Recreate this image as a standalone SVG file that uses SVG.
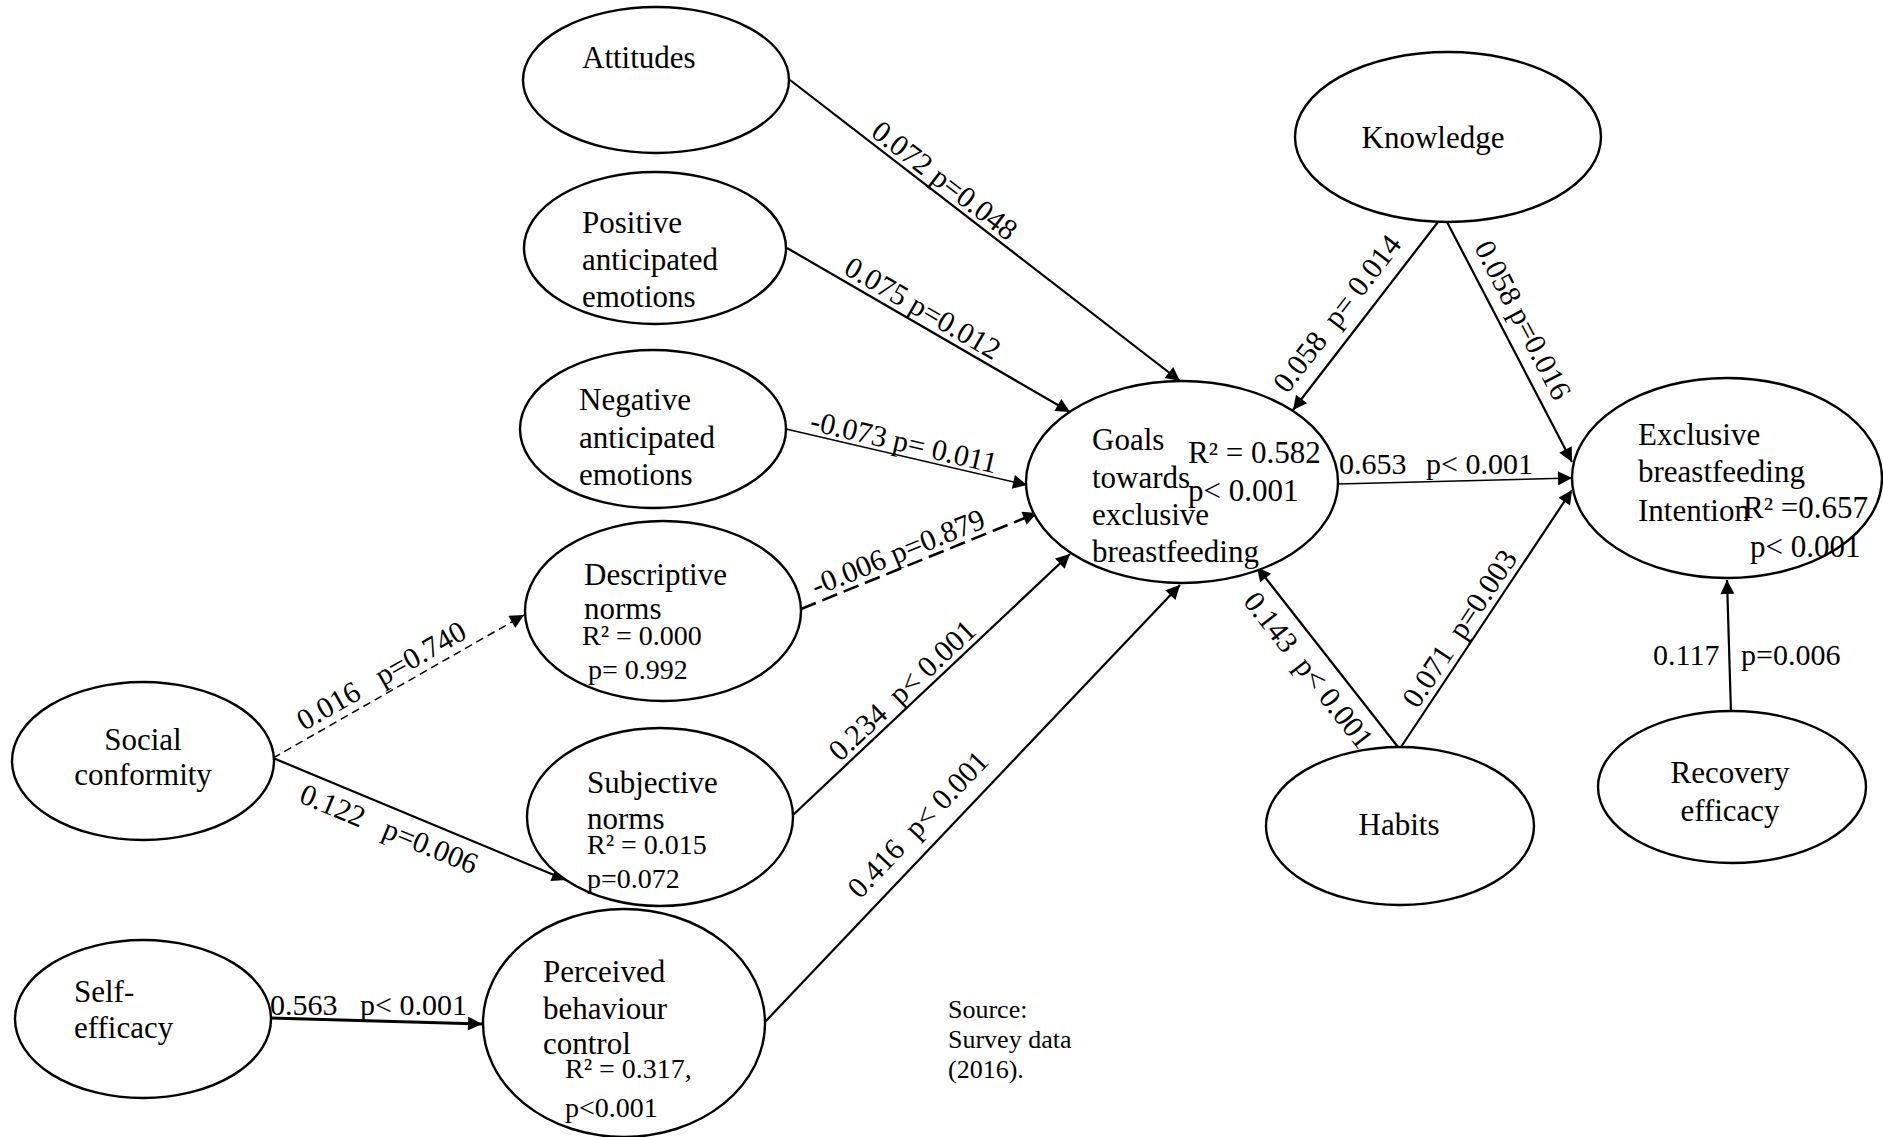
<svg xmlns="http://www.w3.org/2000/svg" width="1883" height="1137" viewBox="0 0 1883 1137">
<style>
.node ellipse{fill:#fff;stroke:#000;stroke-width:2.4}
text{font-family:"Liberation Serif","Times New Roman",serif;fill:#000}
.nl{font-size:31px}
.r2{font-size:28px}
.el{font-size:30px;white-space:pre}
.src{font-size:26px}
.edge{fill:none;stroke:#000;stroke-width:2.2}
.thin{stroke-width:1.4}
.thick{stroke-width:3}
.dash1{stroke-dasharray:8 5;stroke-width:1.5}
.dash2{stroke-dasharray:16 7;stroke-width:2.6}
</style>
<defs>
<marker id="arr" viewBox="0 0 10 10" refX="10" refY="5" markerWidth="18" markerHeight="14" markerUnits="userSpaceOnUse" orient="auto">
<path d="M0,0 L10,5 L0,10 z" fill="#000" stroke="none"/>
</marker>
</defs>
<rect width="1883" height="1137" fill="#fff"/>

<g id="connectors">
<line class="edge" x1="790" y1="80" x2="1180" y2="381" marker-end="url(#arr)"/>
<line class="edge" x1="787" y1="248" x2="1070" y2="412" marker-end="url(#arr)"/>
<line class="edge thin" x1="786" y1="429" x2="1027" y2="485" marker-end="url(#arr)"/>
<line class="edge dash2" x1="801" y1="609" x2="1037" y2="513" marker-end="url(#arr)"/>
<line class="edge" x1="793" y1="815" x2="1070" y2="554" marker-end="url(#arr)"/>
<line class="edge" x1="764" y1="1023" x2="1180" y2="585" marker-end="url(#arr)"/>
<line class="edge" x1="1438" y1="222" x2="1293" y2="410" marker-end="url(#arr)"/>
<line class="edge" x1="1447" y1="222" x2="1572" y2="462" marker-end="url(#arr)"/>
<line class="edge thin" x1="1338" y1="484" x2="1572" y2="478" marker-end="url(#arr)"/>
<line class="edge" x1="1398" y1="747" x2="1257" y2="567" marker-end="url(#arr)"/>
<line class="edge" x1="1401" y1="747" x2="1572" y2="490" marker-end="url(#arr)"/>
<line class="edge" x1="1731" y1="713" x2="1727" y2="580" marker-end="url(#arr)"/>
<line class="edge dash1" x1="273" y1="758" x2="524" y2="615" marker-end="url(#arr)"/>
<line class="edge" x1="273" y1="758" x2="566" y2="880" marker-end="url(#arr)"/>
<line class="edge thick" x1="270" y1="1018" x2="482" y2="1024" marker-end="url(#arr)"/>

<text class="el" text-anchor="middle" transform="translate(935.5,192.3) rotate(37.66)" y="-5">0.072 p=0.048</text>
<text class="el" text-anchor="middle" transform="translate(914.8,322) rotate(30.1)" y="-6">0.075 p=0.012</text>
<text class="el" text-anchor="middle" transform="translate(900.8,455.6) rotate(13.1)" y="-4">-0.073 p= 0.011</text>
<text class="el" text-anchor="middle" transform="translate(904,567) rotate(-22.1)" y="-6">-0.006 p=0.879</text>
<text class="el" text-anchor="middle" transform="translate(913,702) rotate(-43.3)" y="-6">0.234  p&lt; 0.001</text>
<text class="el" text-anchor="middle" transform="translate(936,841.6) rotate(-46.45)" y="-15">0.416  p&lt; 0.001</text>
<text class="el" text-anchor="middle" transform="translate(1356,328.3) rotate(-52.4)" y="-14">0.058  p= 0.014</text>
<text class="el" text-anchor="middle" transform="translate(1503.4,330.2) rotate(62.5)" y="-12">0.058 p=0.016</text>
<text class="el" x="1339" y="474">0.653</text>
<text class="el" x="1426" y="474">p&lt; 0.001</text>
<text class="el" text-anchor="middle" transform="translate(1326.7,655.9) rotate(51.9)" y="33">0.143  p&lt; 0.001</text>
<text class="el" text-anchor="middle" transform="translate(1473.7,637.8) rotate(-56.4)" y="-7">0.071  p=0.003</text>
<text class="el" x="1653" y="665">0.117</text>
<text class="el" x="1741" y="665">p=0.006</text>
<text class="el" text-anchor="middle" transform="translate(390.3,691.2) rotate(-29.7)" y="-8">0.016   p=0.740</text>
<text class="el" text-anchor="middle" transform="translate(397.1,809.6) rotate(22.6)" y="31">0.122   p=0.006</text>
<text class="el" x="270" y="1015">0.563</text>
<text class="el" x="360" y="1015">p&lt; 0.001</text>
</g>

<g id="attitudes" class="node">
<ellipse cx="656" cy="80" rx="133" ry="73"/>
<text class="nl" x="582" y="68">Attitudes</text>
</g>
<g id="positive-emotions" class="node">
<ellipse cx="655" cy="248" rx="131" ry="76"/>
<text class="nl" x="582" y="233">Positive</text>
<text class="nl" x="582" y="270">anticipated</text>
<text class="nl" x="582" y="307">emotions</text>
</g>
<g id="negative-emotions" class="node">
<ellipse cx="653" cy="429" rx="133" ry="79"/>
<text class="nl" x="579" y="410">Negative</text>
<text class="nl" x="579" y="448">anticipated</text>
<text class="nl" x="579" y="485">emotions</text>
</g>
<g id="descriptive-norms" class="node">
<ellipse cx="663" cy="611" rx="138" ry="90"/>
<text class="nl" x="584" y="585">Descriptive</text>
<text class="nl" x="584" y="619">norms</text>
<text class="r2" x="582" y="645">R² = 0.000</text>
<text class="r2" x="588" y="679">p= 0.992</text>
</g>
<g id="subjective-norms" class="node">
<ellipse cx="660" cy="817" rx="133" ry="89"/>
<text class="nl" x="587" y="793">Subjective</text>
<text class="nl" x="587" y="829">norms</text>
<text class="r2" x="587" y="854">R² = 0.015</text>
<text class="r2" x="587" y="888">p=0.072</text>
</g>
<g id="pbc" class="node">
<ellipse cx="624" cy="1023" rx="141" ry="114"/>
<text class="nl" x="543" y="982">Perceived</text>
<text class="nl" x="543" y="1019">behaviour</text>
<text class="nl" x="543" y="1054">control</text>
<text class="r2" x="565" y="1078">R² = 0.317,</text>
<text class="r2" x="565" y="1117">p&lt;0.001</text>
</g>
<g id="social-conformity" class="node">
<ellipse cx="143" cy="761" rx="131" ry="79"/>
<text class="nl" x="143" y="750" text-anchor="middle">Social</text>
<text class="nl" x="143" y="785" text-anchor="middle">conformity</text>
</g>
<g id="self-efficacy" class="node">
<ellipse cx="143" cy="1019" rx="128" ry="79"/>
<text class="nl" x="74" y="1002">Self-</text>
<text class="nl" x="74" y="1038">efficacy</text>
</g>
<g id="goals" class="node">
<ellipse cx="1182" cy="482" rx="156" ry="101"/>
<text class="nl" x="1092" y="450">Goals</text>
<text class="nl" x="1092" y="488">towards</text>
<text class="nl" x="1092" y="525">exclusive</text>
<text class="nl" x="1092" y="562">breastfeeding</text>
<text class="nl" x="1188" y="463">R² = 0.582</text>
<text class="nl" x="1188" y="501">p&lt; 0.001</text>
</g>
<g id="knowledge" class="node">
<ellipse cx="1448" cy="137" rx="153" ry="85"/>
<text class="nl" x="1433" y="148" text-anchor="middle">Knowledge</text>
</g>
<g id="ebf-intention" class="node">
<ellipse cx="1727" cy="478" rx="155" ry="100"/>
<text class="nl" x="1638" y="445">Exclusive</text>
<text class="nl" x="1638" y="482">breastfeeding</text>
<text class="nl" x="1638" y="521">Intention</text>
<text class="nl" x="1743" y="518">R² =0.657</text>
<text class="nl" x="1750" y="557">p&lt; 0.001</text>
</g>
<g id="habits" class="node">
<ellipse cx="1400" cy="826" rx="134" ry="79"/>
<text class="nl" x="1399" y="835" text-anchor="middle">Habits</text>
</g>
<g id="recovery-efficacy" class="node">
<ellipse cx="1732" cy="787" rx="134" ry="76"/>
<text class="nl" x="1730" y="783" text-anchor="middle">Recovery</text>
<text class="nl" x="1730" y="821" text-anchor="middle">efficacy</text>
</g>
<g id="source">
<text class="src" x="948" y="1018">Source:</text>
<text class="src" x="948" y="1048">Survey data</text>
<text class="src" x="948" y="1078">(2016).</text>
</g>
</svg>
